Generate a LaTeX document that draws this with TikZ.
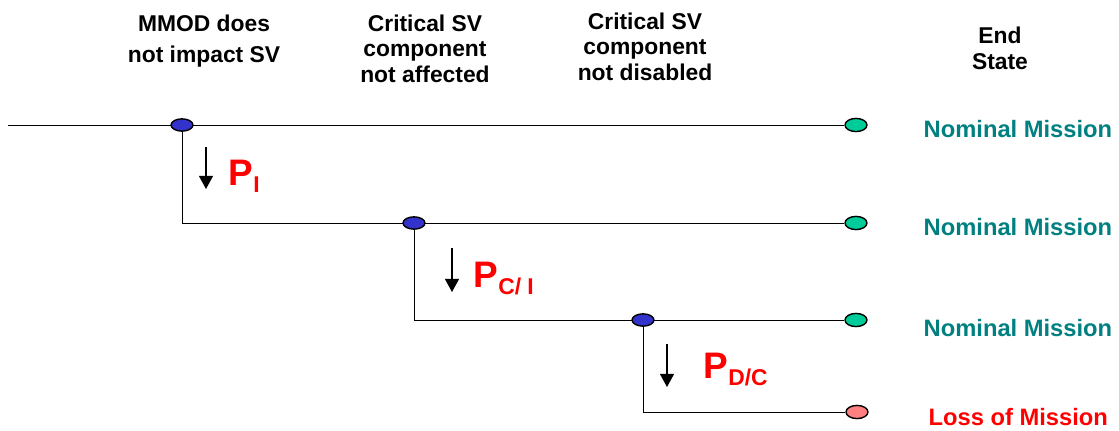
\documentclass[tikz,border=0pt]{standalone}
\usepackage{fontspec}
\setmainfont{Liberation Sans}
\usetikzlibrary{arrows.meta,shapes.geometric,backgrounds}
\definecolor{chanceblue}{RGB}{51,51,204}
\definecolor{endgreen}{RGB}{0,204,153}
\definecolor{endpink}{RGB}{255,128,128}
\definecolor{endteal}{RGB}{0,128,128}
\newcommand{\probP}[1]{{\fontsize{21}{24}\selectfont P}\raisebox{-4pt}{\fontsize{13}{15}\selectfont #1}}

\begin{document}
\begin{tikzpicture}[x=0.02cm,y=-0.02cm,>={Triangle[width=8pt,length=7.5pt]},line width=0.8pt,
  chance/.style={ellipse,draw,fill=chanceblue,minimum width=12.5pt,minimum height=7pt,inner sep=0pt},
  endpt/.style={ellipse,draw,minimum width=12.5pt,minimum height=7.5pt,inner sep=0pt},
  hdr/.style={font=\bfseries\fontsize{13}{14.5}\selectfont,align=center,anchor=north,inner sep=0pt},
  outcome/.style={font=\bfseries\fontsize{13.5}{15}\selectfont,anchor=base west,inner sep=0pt},
  prob/.style={font=\bfseries,text=red,anchor=base west,inner sep=0pt}]
\useasboundingbox (0,0) rectangle (1119,430);
% column headings
\node[hdr,font=\bfseries\fontsize{13}{17.6}\selectfont] (h1) at (204,14) {MMOD does\\not impact SV};
\node[hdr] (h2) at (425,14) {Critical SV\\component\\not affected};
\node[hdr] (h3) at (645,12) {Critical SV\\component\\not disabled};
\node[hdr,font=\bfseries\fontsize{13}{15}\selectfont] (h4) at (1000,26) {End\\State};
% branch points
\coordinate (s) at (8,125);
\node[chance] (b1) at (182,125) {};
\node[chance] (b2) at (414,223) {};
\node[chance] (b3) at (643,320) {};
% end states
\node[endpt,fill=endgreen] (e1) at (856,125) {};
\node[endpt,fill=endgreen] (e2) at (856,223) {};
\node[endpt,fill=endgreen] (e3) at (856,320) {};
\node[endpt,fill=endpink] (e4) at (857,412) {};
\node[outcome,text=endteal] (o1) at (923,137) {Nominal Mission};
\node[outcome,text=endteal] (o2) at (923,235) {Nominal Mission};
\node[outcome,text=endteal] (o3) at (923,336) {Nominal Mission};
\node[outcome,text=red] (o4) at (928,425) {Loss of Mission};
\begin{scope}[on background layer]
\draw (s) -- (e1);
\draw (b1.center) |- (e2);
\draw (b2.center) |- (e3);
\draw (b3.center) |- (e4);
\end{scope}
% probabilities
\coordinate (a1) at (206,147); \coordinate (t1) at (206,189);
\coordinate (a2) at (452,248); \coordinate (t2) at (452,292);
\coordinate (a3) at (667,344); \coordinate (t3) at (667,387);
\draw[->] (a1) -- (t1);
\draw[->] (a2) -- (t2);
\draw[->] (a3) -- (t3);
\node[prob] (p1) at (228,185) {\probP{I}};
\node[prob] (p2) at (473,287) {\probP{C/ I}};
\node[prob] (p3) at (703,378) {\probP{D/C}};
\end{tikzpicture}
\end{document}
